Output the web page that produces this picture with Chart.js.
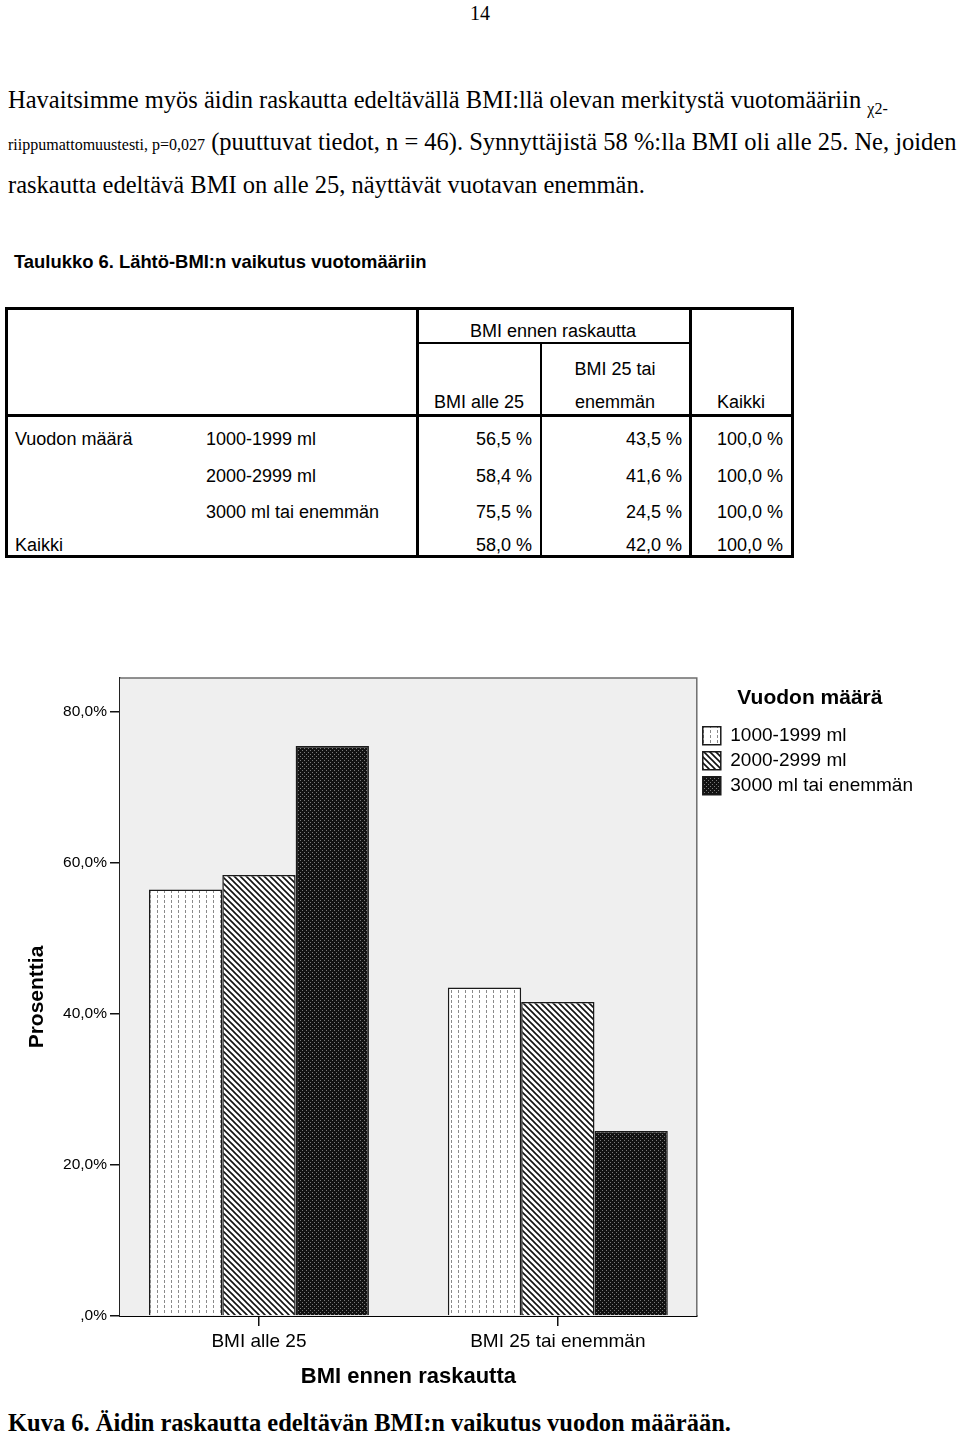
<!DOCTYPE html>
<html lang="fi">
<head>
<meta charset="utf-8">
<title>Kuva 6</title>
<script src="https://cdn.jsdelivr.net/npm/chart.js@4.4.1/dist/chart.umd.min.js"></script>
<style>
  body { margin: 0; background: #fff; color: #000; }
  #page { position: relative; width: 960px; height: 1436px; overflow: hidden; }
  .serif { font-family: "Liberation Serif", "Times New Roman", serif; }
  .sans { font-family: "Liberation Sans", Arial, sans-serif; }
  .line { position: absolute; white-space: nowrap; line-height: 1; }
  .body { font-size: 24.5px; }
  .small { font-size: 16px; }
  .cell { position: absolute; white-space: nowrap; font-size: 18px; line-height: 1;
          font-family: "Liberation Sans", Arial, sans-serif; transform: translateY(-50%); }
  .rule { position: absolute; background: #000; }
  #chartBox { position: absolute; left: 0; top: 660px; width: 960px; height: 740px; }
</style>
</head>
<body>
<div id="page">
  <div class="line serif" style="left:0;width:960px;text-align:center;top:3px;font-size:20px;">14</div>

  <div class="line serif body" style="left:8px;top:88px;">Havaitsimme myös äidin raskautta edeltävällä BMI:llä olevan merkitystä vuotomääriin <span class="small" style="vertical-align:sub;">χ2-</span></div>
  <div class="line serif body" style="left:8px;top:130px;"><span class="small">riippumattomuustesti, p=0,027</span> (puuttuvat tiedot, n = 46). Synnyttäjistä 58 %:lla BMI oli alle 25. Ne, joiden</div>
  <div class="line serif body" style="left:8px;top:173px;">raskautta edeltävä BMI on alle 25, näyttävät vuotavan enemmän.</div>

  <div class="line sans" style="left:14px;top:253px;font-size:18.4px;font-weight:bold;">Taulukko 6. Lähtö-BMI:n vaikutus vuotomääriin</div>

  <div id="table"></div>

  <div id="chartBox"><canvas id="bmiChart"></canvas></div>

  <div class="line serif" style="left:8px;top:1411px;font-size:24.5px;font-weight:bold;">Kuva 6. Äidin raskautta edeltävän BMI:n vaikutus vuodon määrään.</div>
</div>

<script>
// chart data
const bmiGroups = ['BMI alle 25', 'BMI 25 tai enemmän'];
const flowLabels = ['1000-1999 ml', '2000-2999 ml', '3000 ml tai enemmän'];
const flow1000 = [56.5, 43.5];
const flow2000 = [58.4, 41.6];
const flow3000 = [75.5, 24.5];
const yTicks = [0, 20, 40, 60, 80];

// table data (same figures as in the report table)
const rowLabels = ['1000-1999 ml', '2000-2999 ml', '3000 ml tai enemmän'];
const colUnder25 = ['56,5 %', '58,4 %', '75,5 %', '58,0 %'];
const colOver25 = ['43,5 %', '41,6 %', '24,5 %', '42,0 %'];
const colAll = ['100,0 %', '100,0 %', '100,0 %', '100,0 %'];

function addRule(left, top, width, height) {
    const d = document.createElement('div');
    d.className = 'rule';
    d.style.left = left + 'px';
    d.style.top = top + 'px';
    d.style.width = width + 'px';
    d.style.height = height + 'px';
    document.getElementById('table').appendChild(d);
}

// x is left edge, or right edge when align == 'right', or centre when 'center'
function addCell(text, x, y, align) {
    const d = document.createElement('div');
    d.className = 'cell';
    d.textContent = text;
    d.style.top = y + 'px';
    if (align === 'right') {
        d.style.right = (960 - x) + 'px';
    } else if (align === 'center') {
        d.style.left = (x - 100) + 'px';
        d.style.width = '200px';
        d.style.textAlign = 'center';
    } else {
        d.style.left = x + 'px';
    }
    document.getElementById('table').appendChild(d);
}

function buildTable() {
    // frame and rules
    addRule(5, 307, 789, 3);
    addRule(5, 555, 789, 3);
    addRule(5, 307, 3, 251);
    addRule(791, 307, 3, 251);
    addRule(416, 307, 3, 251);
    addRule(689, 307, 3, 251);
    addRule(540, 343, 2, 215);
    addRule(416, 342, 275, 2);
    addRule(5, 414, 789, 3);

    addCell('BMI ennen raskautta', 553, 331, 'center');
    addCell('BMI 25 tai', 615, 369, 'center');
    addCell('BMI alle 25', 479, 402, 'center');
    addCell('enemmän', 615, 402, 'center');
    addCell('Kaikki', 741, 402, 'center');

    const rowY = [439, 476, 512, 545];
    addCell('Vuodon määrä', 15, rowY[0]);
    addCell('Kaikki', 15, rowY[3]);
    rowLabels.forEach(function(label, i) {
        addCell(label, 206, rowY[i]);
    });
    rowY.forEach(function(y, i) {
        addCell(colUnder25[i], 532, y, 'right');
        addCell(colOver25[i], 682, y, 'right');
        addCell(colAll[i], 783, y, 'right');
    });
}

// fill patterns like the SPSS bar shading
function makePattern(kind) {
    const c = document.createElement('canvas');
    const ctx = c.getContext('2d');
    if (kind === 'dots') {
        c.width = 7; c.height = 5;
        ctx.fillStyle = '#fff';
        ctx.fillRect(0, 0, 7, 5);
        ctx.fillStyle = '#8a8a8a';
        ctx.fillRect(3, 0, 1, 3);
    } else if (kind === 'diag') {
        c.width = 6; c.height = 6;
        ctx.fillStyle = '#fff';
        ctx.fillRect(0, 0, 6, 6);
        ctx.strokeStyle = '#111';
        ctx.lineWidth = 1.6;
        ctx.beginPath();
        ctx.moveTo(-1, -1); ctx.lineTo(7, 7);
        ctx.moveTo(-4, 2); ctx.lineTo(2, 8);
        ctx.moveTo(4, -2); ctx.lineTo(8, 2);
        ctx.stroke();
    } else {
        c.width = 4; c.height = 4;
        ctx.fillStyle = '#121212';
        ctx.fillRect(0, 0, 4, 4);
        ctx.fillStyle = '#7a7a7a';
        ctx.fillRect(0, 0, 1, 1);
        ctx.fillRect(2, 2, 1, 1);
    }
    return ctx.createPattern(c, 'repeat');
}

// grey plot background and frame
const plotFrame = {
    id: 'plotFrame',
    beforeDatasetsDraw: function(chart) {
        const a = chart.chartArea;
        const ctx = chart.ctx;
        ctx.save();
        ctx.fillStyle = '#efefef';
        ctx.fillRect(a.left, a.top, a.right - a.left, a.bottom - a.top);
        ctx.restore();
    },
    afterDatasetsDraw: function(chart) {
        const a = chart.chartArea;
        const ctx = chart.ctx;
        ctx.save();
        ctx.strokeStyle = '#6e6e6e';
        ctx.lineWidth = 1.5;
        ctx.beginPath();
        ctx.moveTo(a.left, a.top);
        ctx.lineTo(a.right, a.top);
        ctx.lineTo(a.right, a.bottom);
        ctx.stroke();
        ctx.restore();
    }
};

function pct(v) {
    if (v === 0) return ',0%';
    return v.toFixed(1).replace('.', ',') + '%';
}

function drawChart() {
    const series = [flow1000, flow2000, flow3000];
    const fills = [makePattern('dots'), makePattern('diag'), makePattern('dark')];

    // groups sit on a numeric x axis (0, 1) so the outer margins can match the original
    const data = {
        datasets: series.map(function(values, i) {
            return {
                label: flowLabels[i],
                data: values.map(function(v, g) { return { x: g, y: v }; }),
                backgroundColor: fills[i],
                borderColor: '#1a1a1a',
                borderWidth: 1.5,
                borderSkipped: 'bottom',
                categoryPercentage: 0.736,
                barPercentage: 1.0
            };
        })
    };

    const config = {
        type: 'bar',
        data: data,
        plugins: [plotFrame],
        options: {
            responsive: true,
            maintainAspectRatio: false,
            animation: false,
            layout: { padding: { top: 18, left: 14, right: 37, bottom: 10 } },
            plugins: {
                tooltip: { enabled: false },
                legend: {
                    position: 'right',
                    align: 'start',
                    title: {
                        display: true,
                        text: 'Vuodon määrä',
                        color: '#000',
                        font: { family: 'Liberation Sans', size: 21, weight: 'bold' },
                        padding: { top: 10, bottom: 7 }
                    },
                    labels: {
                        boxWidth: 18,
                        boxHeight: 18,
                        padding: 6,
                        color: '#000',
                        font: { family: 'Liberation Sans', size: 19 }
                    }
                }
            },
            scales: {
                x: {
                    type: 'linear',
                    min: -0.465,
                    max: 1.465,
                    offset: false,
                    afterBuildTicks: function(scale) {
                        scale.ticks = bmiGroups.map(function(name, g) { return { value: g }; });
                    },
                    grid: { offset: false, drawOnChartArea: false, drawTicks: true, tickLength: 10, color: '#111', lineWidth: 1.5 },
                    border: { display: true, color: '#000', width: 2 },
                    ticks: {
                        color: '#000',
                        padding: 4,
                        font: { family: 'Liberation Sans', size: 19 },
                        callback: function(v) { return bmiGroups[v]; }
                    },
                    title: {
                        display: true,
                        text: 'BMI ennen raskautta',
                        color: '#000',
                        padding: { top: 0, bottom: 0 },
                        font: { family: 'Liberation Sans', size: 22, weight: 'bold' }
                    },
                    afterFit: function(scale) { scale.height = 74; }
                },
                y: {
                    min: 0,
                    max: 84.5,
                    afterBuildTicks: function(scale) {
                        scale.ticks = yTicks.map(function(v) { return { value: v }; });
                    },
                    grid: { drawOnChartArea: false, drawTicks: true, tickLength: 10, color: '#111', lineWidth: 1.5 },
                    border: { display: true, color: '#222', width: 1.5 },
                    ticks: {
                        color: '#000',
                        padding: 3,
                        font: { family: 'Liberation Sans', size: 15.5 },
                        callback: function(v) { return pct(v); }
                    },
                    title: {
                        display: true,
                        text: 'Prosenttia',
                        color: '#000',
                        padding: { top: 11, bottom: 0 },
                        font: { family: 'Liberation Sans', size: 21, weight: 'bold' }
                    },
                    afterFit: function(scale) { scale.width = 106; }
                }
            }
        }
    };

    new Chart(document.getElementById('bmiChart'), config);
}

buildTable();
drawChart();
</script>
</body>
</html>
